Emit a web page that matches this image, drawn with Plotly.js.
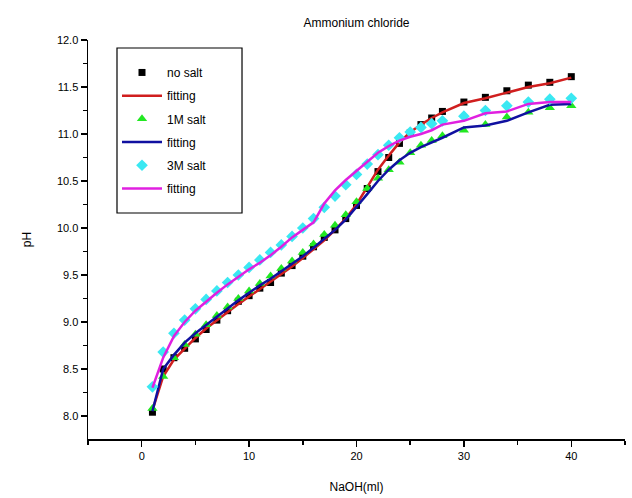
<!DOCTYPE html>
<html>
<head>
<meta charset="utf-8">
<script src="https://cdn.plot.ly/plotly-3.0.1.min.js"></script>
<style>html,body{margin:0;padding:0;background:#fff;}#chart{width:632px;height:498px;}</style>
</head>
<body>
<div id="chart"></div>
<script>
// NaOH volume (ml)
const naohMl = [1,2,3,4,5,6,7,8,9,10,11,12,13,14,15,16,17,18,19,20,21,22,23,24,25,26,27,28,30,32,34,36,38,40];

// pH readings
const noSalt   = [8.04,8.50,8.62,8.72,8.82,8.92,9.02,9.12,9.22,9.28,9.36,9.42,9.52,9.60,9.70,9.80,9.90,9.98,10.10,10.24,10.42,10.60,10.75,10.90,11.01,11.10,11.17,11.24,11.34,11.39,11.46,11.52,11.55,11.61];
const noSaltFit= [8.06,8.42,8.60,8.72,8.83,8.93,9.02,9.11,9.19,9.27,9.35,9.43,9.51,9.59,9.68,9.77,9.87,9.98,10.10,10.25,10.43,10.62,10.77,10.91,11.02,11.10,11.17,11.23,11.33,11.38,11.44,11.50,11.54,11.60];
const salt1M   = [8.08,8.42,8.62,8.76,8.87,8.97,9.07,9.16,9.25,9.33,9.41,9.49,9.57,9.65,9.74,9.83,9.93,10.03,10.14,10.28,10.42,10.53,10.62,10.70,10.80,10.88,10.93,10.98,11.04,11.10,11.18,11.23,11.28,11.30];
const salt1MFit= [8.05,8.50,8.65,8.78,8.88,8.97,9.06,9.15,9.23,9.31,9.39,9.46,9.54,9.62,9.70,9.79,9.88,9.98,10.09,10.22,10.36,10.50,10.62,10.72,10.80,10.86,10.91,10.96,11.07,11.09,11.14,11.23,11.31,11.32];
const salt3M   = [8.31,8.68,8.88,9.02,9.14,9.24,9.33,9.42,9.50,9.58,9.66,9.74,9.82,9.91,10.00,10.10,10.22,10.34,10.46,10.57,10.68,10.78,10.88,10.96,11.02,11.07,11.11,11.14,11.19,11.25,11.30,11.34,11.37,11.38];
const salt3MFit= [8.30,8.62,8.85,9.00,9.12,9.22,9.31,9.40,9.48,9.56,9.63,9.71,9.80,9.90,9.98,10.06,10.26,10.40,10.51,10.61,10.70,10.80,10.87,10.93,10.97,11.00,11.04,11.10,11.14,11.22,11.24,11.32,11.34,11.34];

const legendNames = ['no salt','fitting','1M salt','fitting','3M salt','fitting'];

const font = 'Liberation Sans, Arial, sans-serif';

const traces = [
  {x: naohMl, y: noSalt, mode: 'markers', name: legendNames[0], legendgroup: 'a',
   marker: {symbol: 'square', size: 7, color: '#000000'}},
  {x: naohMl, y: noSaltFit, mode: 'lines', name: legendNames[1], legendgroup: 'b',
   line: {color: '#d01e1e', width: 2.5}},
  {x: naohMl, y: salt1M, mode: 'markers', name: legendNames[2], legendgroup: 'c',
   marker: {symbol: 'triangle-up', size: 9, color: '#22e822'}},
  {x: naohMl, y: salt1MFit, mode: 'lines', name: legendNames[3], legendgroup: 'd',
   line: {color: '#1010a0', width: 2.5}},
  {x: naohMl, y: salt3M, mode: 'markers', name: legendNames[4], legendgroup: 'e',
   marker: {symbol: 'diamond', size: 9, color: '#3ae8f2'}},
  {x: naohMl, y: salt3MFit, mode: 'lines', name: legendNames[5], legendgroup: 'f',
   line: {color: '#e020e0', width: 2.5}}
];

const layout = {
  width: 632, height: 498,
  margin: {l: 88, r: 7, t: 40, b: 59},
  paper_bgcolor: '#ffffff', plot_bgcolor: '#ffffff',
  font: {family: font, size: 11, color: '#000000'},
  title: {text: 'Ammonium chloride', x: 0.5, xref: 'paper', y: 1, yref: 'paper', yanchor: 'bottom',
          pad: {b: 13}, font: {family: font, size: 12, color: '#000'}},
  showlegend: true,
  legend: {x: 0.054, y: 0.955, xanchor: 'left', yanchor: 'top',
           borderwidth: 0, bgcolor: 'rgba(0,0,0,0)',
           font: {family: font, size: 12}, tracegroupgap: 4.2, itemwidth: 40},
  shapes: [{type: 'rect', xref: 'paper', yref: 'paper', x0: 0.054, x1: 0.2868, y0: 0.5664, y1: 0.98,
            line: {color: '#000', width: 1.2}, fillcolor: 'rgba(0,0,0,0)', layer: 'above'}],
  xaxis: {range: [-5, 45], showline: true, linecolor: '#000', linewidth: 1.5,
          showgrid: false, zeroline: false, ticks: 'outside', ticklen: 6, tickwidth: 1.5,
          tickcolor: '#000', dtick: 10, tick0: 0,
          minor: {dtick: 5, ticks: 'outside', ticklen: 4, tickwidth: 1.5, tickcolor: '#000', showgrid: false},
          title: {text: 'NaOH(ml)', standoff: 22, font: {family: font, size: 12}}},
  yaxis: {range: [7.755, 12.0], showline: true, linecolor: '#000', linewidth: 1.5,
          showgrid: false, zeroline: false, ticks: 'outside', ticklen: 6, tickwidth: 1.5,
          tickcolor: '#000', dtick: 0.5, tick0: 8, tickformat: '.1f',
          minor: {dtick: 0.25, ticks: 'outside', ticklen: 4, tickwidth: 1.5, tickcolor: '#000', showgrid: false},
          title: {text: 'pH', standoff: 22, font: {family: font, size: 12}}}
};

Plotly.newPlot('chart', traces, layout, {displayModeBar: false, staticPlot: true});
</script>
</body>
</html>
